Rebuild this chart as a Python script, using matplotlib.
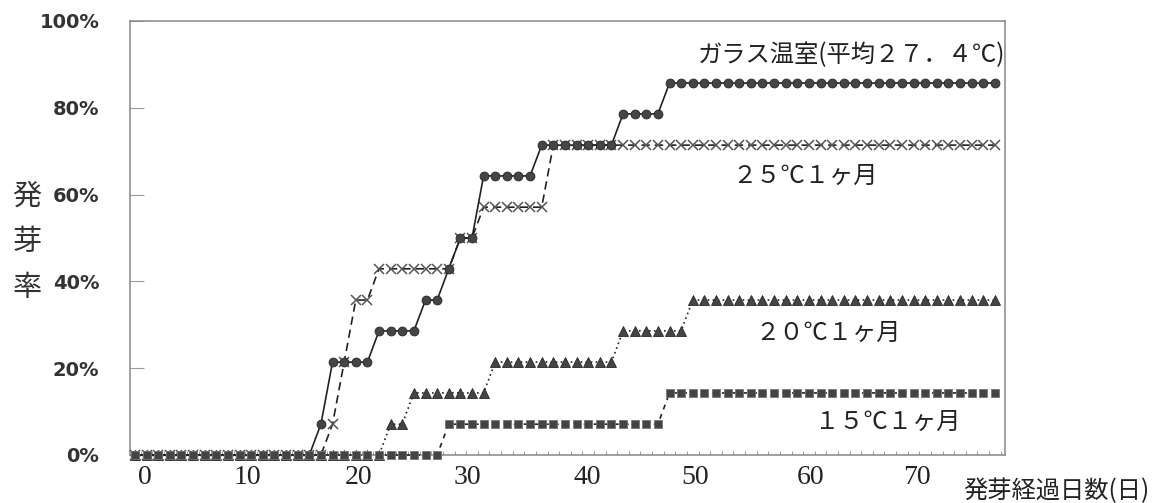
import matplotlib
matplotlib.use("Agg")
import matplotlib.pyplot as plt
import numpy as np

plt.rcParams["font.family"] = ["Noto Sans CJK JP", "DejaVu Sans"]

# one observation per day (index 0..74), germination rate in %
days = np.arange(75)

glass = [0, 0, 0, 0, 0, 0, 0, 0, 0, 0, 0, 0, 0, 0, 0,
         0, 7.1, 21.4, 21.4, 21.4, 21.4, 28.6, 28.6, 28.6, 28.6, 35.7, 35.7, 42.9, 50.0, 50.0,
         64.3, 64.3, 64.3, 64.3, 64.3, 71.4, 71.4, 71.4, 71.4, 71.4, 71.4, 71.4, 78.6, 78.6, 78.6,
         78.6, 85.7, 85.7, 85.7, 85.7, 85.7, 85.7, 85.7, 85.7, 85.7, 85.7, 85.7, 85.7, 85.7, 85.7,
         85.7, 85.7, 85.7, 85.7, 85.7, 85.7, 85.7, 85.7, 85.7, 85.7, 85.7, 85.7, 85.7, 85.7, 85.7]

c25 = [0, 0, 0, 0, 0, 0, 0, 0, 0, 0, 0, 0, 0, 0, 0,
       0, 0, 7.1, 21.4, 35.7, 35.7, 42.9, 42.9, 42.9, 42.9, 42.9, 42.9, 42.9, 50.0, 50.0,
       57.1, 57.1, 57.1, 57.1, 57.1, 57.1, 71.4, 71.4, 71.4, 71.4, 71.4, 71.4, 71.4, 71.4, 71.4,
       71.4, 71.4, 71.4, 71.4, 71.4, 71.4, 71.4, 71.4, 71.4, 71.4, 71.4, 71.4, 71.4, 71.4, 71.4,
       71.4, 71.4, 71.4, 71.4, 71.4, 71.4, 71.4, 71.4, 71.4, 71.4, 71.4, 71.4, 71.4, 71.4, 71.4]

c20 = [0, 0, 0, 0, 0, 0, 0, 0, 0, 0, 0, 0, 0, 0, 0,
       0, 0, 0, 0, 0, 0, 0, 7.1, 7.1, 14.3, 14.3, 14.3, 14.3, 14.3, 14.3,
       14.3, 21.4, 21.4, 21.4, 21.4, 21.4, 21.4, 21.4, 21.4, 21.4, 21.4, 21.4, 28.6, 28.6, 28.6,
       28.6, 28.6, 28.6, 35.7, 35.7, 35.7, 35.7, 35.7, 35.7, 35.7, 35.7, 35.7, 35.7, 35.7, 35.7,
       35.7, 35.7, 35.7, 35.7, 35.7, 35.7, 35.7, 35.7, 35.7, 35.7, 35.7, 35.7, 35.7, 35.7, 35.7]

c15 = [0, 0, 0, 0, 0, 0, 0, 0, 0, 0, 0, 0, 0, 0, 0,
       0, 0, 0, 0, 0, 0, 0, 0, 0, 0, 0, 0, 7.1, 7.1, 7.1,
       7.1, 7.1, 7.1, 7.1, 7.1, 7.1, 7.1, 7.1, 7.1, 7.1, 7.1, 7.1, 7.1, 7.1, 7.1,
       7.1, 14.3, 14.3, 14.3, 14.3, 14.3, 14.3, 14.3, 14.3, 14.3, 14.3, 14.3, 14.3, 14.3, 14.3,
       14.3, 14.3, 14.3, 14.3, 14.3, 14.3, 14.3, 14.3, 14.3, 14.3, 14.3, 14.3, 14.3, 14.3, 14.3]

xtick_labels = ["0", "10", "20", "30", "40", "50", "60", "70"]
xtick_pos = [0.86, 9.7, 19.2, 28.6, 38.9, 48.2, 58.1, 67.3]
yticks = [0, 20, 40, 60, 80, 100]

fig = plt.figure(figsize=(11.58, 5.03), dpi=100)
ax = fig.add_axes([130 / 1158, 1 - 455 / 503, 875 / 1158, 434 / 503])

mfc, mec = "#454545", "#262626"
ax.plot(days, c20, color="#222", lw=1.2, ls=(0, (1, 2)), marker="^", ms=7,
        mfc=mfc, mec=mec, mew=0.6, zorder=3, clip_on=False)
ax.plot(days, c25, color="#222", lw=1.2, ls=(0, (5, 3)), marker="x", ms=6.8,
        mec="#555", mew=1.1, zorder=4, clip_on=False)
ax.plot(days, glass, color="#222", lw=1.2, ls="-", marker="o", ms=6.4,
        mfc=mfc, mec=mec, mew=0.6, zorder=5, clip_on=False)
ax.plot(days, c15, color="#222", lw=1.2, ls=(0, (3, 3)), marker="s", ms=6.2,
        mfc="#444", mec="#777", mew=0.6, zorder=6, clip_on=False)

ax.set_xlim(-0.43, 74.87)
ax.set_ylim(0, 100)

ax.set_xticks(xtick_pos)
ax.set_xticklabels(xtick_labels, family=["Liberation Serif"], fontsize=20, color="#222")
ax.set_xticks(np.arange(0.5, 75, 1), minor=True)
ax.tick_params(axis="x", which="major", length=0, pad=7)
ax.tick_params(axis="x", which="minor", direction="in", length=3, color="#888")

ax.set_yticks(yticks)
ax.set_yticklabels([f"{v}%" for v in yticks], family=["DejaVu Sans"],
                   fontweight="bold", fontsize=14, color="#333")
ax.tick_params(axis="y", direction="in", length=10, color="#999", pad=22)

for s in ax.spines.values():
    s.set_color("#888")
    s.set_linewidth(1.1)

txt = dict(fontsize=17.5, color="#222", va="center", ha="left", zorder=10)
ax.text(48.4, 92.2, "ガラス温室(平均２７．４℃)", **txt)
ax.text(51.4, 64.3, "２５℃１ヶ月", **txt)
ax.text(53.4, 28.1, "２０℃１ヶ月", **txt)
ax.text(58.5, 7.6, "１５℃１ヶ月", **txt)

fig.text(963 / 1158, 1 - 491 / 503, "発芽経過日数(日)", fontsize=17.5, color="#222",
         ha="left", va="center")
for ch, py in zip("発芽率", [197, 242, 288]):
    fig.text(27 / 1158, 1 - py / 503, ch, fontsize=21, color="#333",
             ha="center", va="center")

fig.savefig("out.png", dpi=100)
